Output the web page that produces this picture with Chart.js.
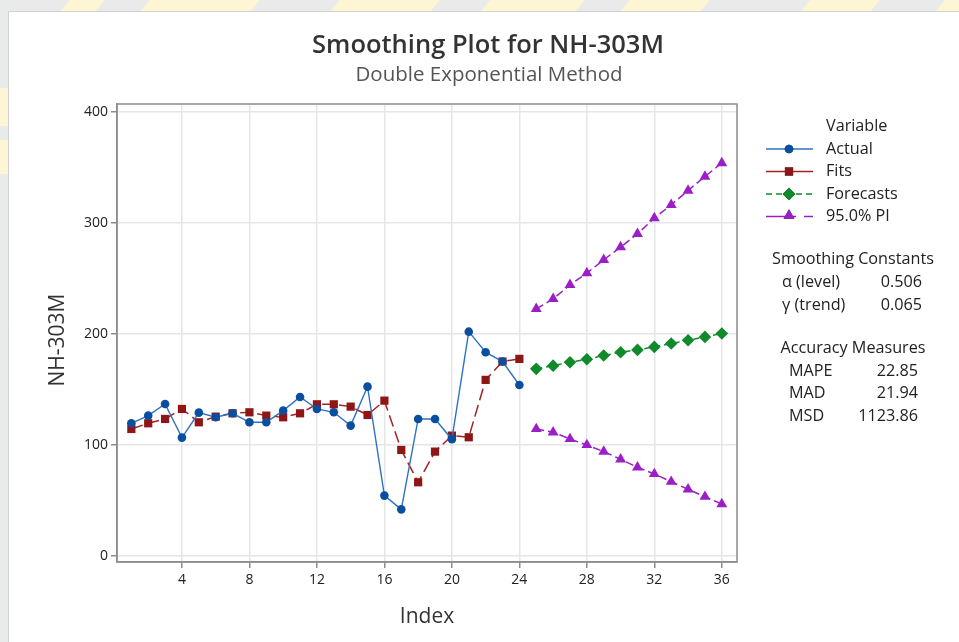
<!DOCTYPE html>
<html>
<head>
<meta charset="utf-8">
<script src="https://cdn.jsdelivr.net/npm/chart.js@4.4.1/dist/chart.umd.min.js"></script>
<style>
  html, body { margin: 0; padding: 0; background: #e9eaea; }
  #wrap { width: 959px; height: 642px; position: relative; }
</style>
</head>
<body>
<div id="wrap"><canvas id="c" width="959" height="642"></canvas></div>
<script>
// Observed series (index 1..24) and smoothed fits
const indexObserved = [1, 2, 3, 4, 5, 6, 7, 8, 9, 10, 11, 12, 13, 14, 15, 16, 17, 18, 19, 20, 21, 22, 23, 24];
const actual = [119.5, 126.4, 136.9, 106.6, 129.1, 124.9, 128.5, 120.4, 120.4, 130.9, 143.2, 132.4,
                129.4, 117.4, 152.5, 54.4, 42.0, 123.4, 123.4, 105.1, 202.0, 183.5, 175.1, 154.0];
const fits = [114.4, 119.5, 123.4, 132.4, 120.4, 125.5, 128.5, 129.4, 126.4, 124.9, 128.5, 136.6,
              136.6, 134.5, 127.0, 139.9, 95.5, 66.4, 94.0, 108.4, 106.9, 158.6, 175.1, 177.5];

// Forecast horizon (index 25..36) with 95% prediction limits
const indexForecast = [25, 26, 27, 28, 29, 30, 31, 32, 33, 34, 35, 36];
const forecasts = [168.5, 171.4, 174.5, 177.2, 180.5, 183.5, 185.6, 188.3, 191.3, 194.3, 197.3, 200.3];
const upperPI = [222.5, 231.5, 244.1, 254.7, 266.7, 278.1, 290.1, 304.2, 316.2, 329.1, 341.7, 353.8];
const lowerPI = [114.4, 111.4, 105.4, 100.0, 94.0, 87.1, 79.9, 73.9, 66.9, 60.1, 53.4, 46.8];

// Axis ticks
const xTicks = [4, 8, 12, 16, 20, 24, 28, 32, 36];
const yTicks = [0, 100, 200, 300, 400];

// Side-panel tables
const seriesNames = ['Actual', 'Fits', 'Forecasts', '95.0% PI'];
const smoothingConstants = [['α (level)', '0.506'], ['γ (trend)', '0.065']];
const accuracyMeasures = [['MAPE', '22.85'], ['MAD', '21.94'], ['MSD', '1123.86']];

const FONT = '"Open Sans", "Noto Sans", sans-serif';
const pts = (xs, ys) => xs.map((x, i) => ({ x: x, y: ys[i] }));

const COLORS = {
  actualLine: '#2f72c4', actualPoint: '#0a4f9f',
  fits: '#8f1616', fitsLine: '#a32222',
  forecast: '#118a2b',
  pi: '#9a1fc6'
};

const datasets = [
  { label: seriesNames[0], data: pts(indexObserved, actual), showLine: true,
    borderColor: COLORS.actualLine, borderWidth: 1.4,
    pointStyle: 'circle', pointRadius: 4.3, pointBackgroundColor: COLORS.actualPoint,
    pointBorderColor: COLORS.actualPoint, pointBorderWidth: 0 },
  { label: seriesNames[1], data: pts(indexObserved, fits), showLine: true,
    borderColor: COLORS.fitsLine, borderWidth: 1.5, borderDash: [12, 5],
    pointStyle: 'rect', pointRadius: 5.8, pointBackgroundColor: COLORS.fits,
    pointBorderColor: COLORS.fits, pointBorderWidth: 0 },
  { label: seriesNames[2], data: pts(indexForecast, forecasts), showLine: true,
    borderColor: COLORS.forecast, borderWidth: 1.5, borderDash: [6, 4],
    pointStyle: 'rectRot', pointRadius: 6.3, pointBackgroundColor: COLORS.forecast,
    pointBorderColor: COLORS.forecast, pointBorderWidth: 0 },
  { label: seriesNames[3], data: pts(indexForecast, upperPI), showLine: true,
    borderColor: COLORS.pi, borderWidth: 1.5, borderDash: [8, 4],
    pointStyle: 'triangle', pointRadius: 6.3, pointBackgroundColor: COLORS.pi,
    pointBorderColor: COLORS.pi, pointBorderWidth: 0 },
  { label: seriesNames[3] + ' (lower)', data: pts(indexForecast, lowerPI), showLine: true,
    borderColor: COLORS.pi, borderWidth: 1.5, borderDash: [8, 4],
    pointStyle: 'triangle', pointRadius: 6.3, pointBackgroundColor: COLORS.pi,
    pointBorderColor: COLORS.pi, pointBorderWidth: 0 }
];

// Page backdrop and white graph panel
const backdrop = {
  id: 'backdrop',
  beforeDraw(chart) {
    const ctx = chart.ctx;
    ctx.save();
    ctx.fillStyle = '#e9eaea';
    ctx.fillRect(0, 0, chart.width, chart.height);
    ctx.fillStyle = '#fdf5d3';
    const bands = [[60, 95], [140, 250], [330, 430], [480, 575], [620, 700], [800, 870], [935, 975]];
    bands.forEach(([a, b]) => {
      ctx.beginPath();
      ctx.moveTo(a + 10, 0); ctx.lineTo(b + 10, 0); ctx.lineTo(b, 12); ctx.lineTo(a, 12);
      ctx.closePath(); ctx.fill();
    });
    ctx.fillRect(0, 88, 8, 38);
    ctx.fillRect(0, 140, 8, 34);
    ctx.fillStyle = '#ffffff';
    ctx.fillRect(8, 11, chart.width, chart.height);
    ctx.strokeStyle = '#d2d2d2';
    ctx.lineWidth = 1;
    ctx.beginPath();
    ctx.moveTo(8.5, chart.height); ctx.lineTo(8.5, 11.5); ctx.lineTo(chart.width, 11.5);
    ctx.stroke();
    ctx.restore();
  }
};

// Frame around the data region
const frame = {
  id: 'frame',
  beforeDatasetsDraw(chart) {
    const a = chart.chartArea, ctx = chart.ctx;
    ctx.save();
    ctx.strokeStyle = '#8c8c8c';
    ctx.lineWidth = 1.5;
    ctx.strokeRect(a.left, a.top, a.right - a.left, a.bottom - a.top);
    ctx.restore();
  }
};

// Titles, axis titles, legend and statistics panel
const annotations = {
  id: 'annotations',
  afterDraw(chart) {
    const ctx = chart.ctx, a = chart.chartArea;
    ctx.save();
    ctx.textBaseline = 'middle';

    ctx.textAlign = 'center';
    ctx.fillStyle = '#333333';
    ctx.font = '600 25.5px ' + FONT;
    ctx.fillText('Smoothing Plot for NH-303M', 488, 46);
    ctx.fillStyle = '#555555';
    ctx.font = '20.5px ' + FONT;
    ctx.fillText('Double Exponential Method', 489, 75);

    ctx.fillStyle = '#333333';
    ctx.font = '21px ' + FONT;
    ctx.fillText('Index', (a.left + a.right) / 2, 617);
    ctx.save();
    ctx.translate(58, 340);
    ctx.rotate(-Math.PI / 2);
    ctx.fillText('NH-303M', 0, 0);
    ctx.restore();

    // legend
    ctx.font = '16.2px ' + FONT;
    ctx.fillStyle = '#222222';
    ctx.textAlign = 'left';
    ctx.fillText('Variable', 826, 126);
    const rows = [datasets[0], datasets[1], datasets[2], datasets[3]];
    const legendDash = [[], [], [6, 4], [30, 8]];
    rows.forEach((ds, i) => {
      const y = 149 + i * 22.5;
      ctx.save();
      ctx.strokeStyle = ds.borderColor;
      ctx.lineWidth = 1.5;
      ctx.setLineDash(legendDash[i]);
      ctx.beginPath(); ctx.moveTo(766, y); ctx.lineTo(813, y); ctx.stroke();
      ctx.restore();
      Chart.helpers.drawPoint(ctx, {
        pointStyle: ds.pointStyle, radius: ds.pointRadius, rotation: 0,
        borderWidth: 0
      }, 789, ds.pointStyle === 'triangle' ? y - 1 : y);
      ctx.fillStyle = ds.pointBackgroundColor;
      ctx.fill();
      ctx.fillStyle = '#222222';
      ctx.fillText(ds.label, 826, y);
    });

    // smoothing constants
    ctx.textAlign = 'center';
    ctx.fillText('Smoothing Constants', 853, 259);
    smoothingConstants.forEach(([k, v], i) => {
      const y = 282 + i * 23;
      ctx.textAlign = 'left';
      ctx.fillText(k, 782, y);
      ctx.textAlign = 'right';
      ctx.fillText(v, 922, y);
    });

    // accuracy measures
    ctx.textAlign = 'center';
    ctx.fillText('Accuracy Measures', 853, 348);
    accuracyMeasures.forEach(([k, v], i) => {
      const y = 371 + i * 22.5;
      ctx.textAlign = 'left';
      ctx.fillText(k, 789, y);
      ctx.textAlign = 'right';
      ctx.fillText(v, 918, y);
    });
    ctx.restore();
  }
};

const tickFont = { family: FONT, size: 14 };

new Chart(document.getElementById('c'), {
  type: 'scatter',
  data: { datasets: datasets },
  plugins: [backdrop, frame, annotations],
  options: {
    responsive: false,
    devicePixelRatio: 1,
    animation: false,
    layout: { padding: { left: 0, top: 104, right: 222, bottom: 0 } },
    plugins: { legend: { display: false }, tooltip: { enabled: false }, title: { display: false } },
    scales: {
      x: {
        type: 'linear', min: 0.15, max: 36.9,
        afterBuildTicks: s => { s.ticks = xTicks.map(v => ({ value: v })); },
        afterFit: s => { s.height = 80; },
        grid: { color: '#e6e6e6', lineWidth: 1.5, tickColor: '#8c8c8c', tickLength: 6, drawTicks: true },
        border: { color: '#8c8c8c', width: 1.5 },
        ticks: { font: tickFont, color: '#222222', padding: 4, maxRotation: 0, autoSkip: false, includeBounds: false }
      },
      y: {
        type: 'linear', min: -5.4, max: 407,
        afterBuildTicks: s => { s.ticks = yTicks.map(v => ({ value: v })); },
        afterFit: s => { s.width = 117; },
        grid: { color: '#e6e6e6', lineWidth: 1.5, tickColor: '#8c8c8c', tickLength: 6, drawTicks: true },
        border: { color: '#8c8c8c', width: 1.5 },
        ticks: { font: tickFont, color: '#222222', padding: 3, autoSkip: false, includeBounds: false }
      }
    }
  }
});
</script>
</body>
</html>
